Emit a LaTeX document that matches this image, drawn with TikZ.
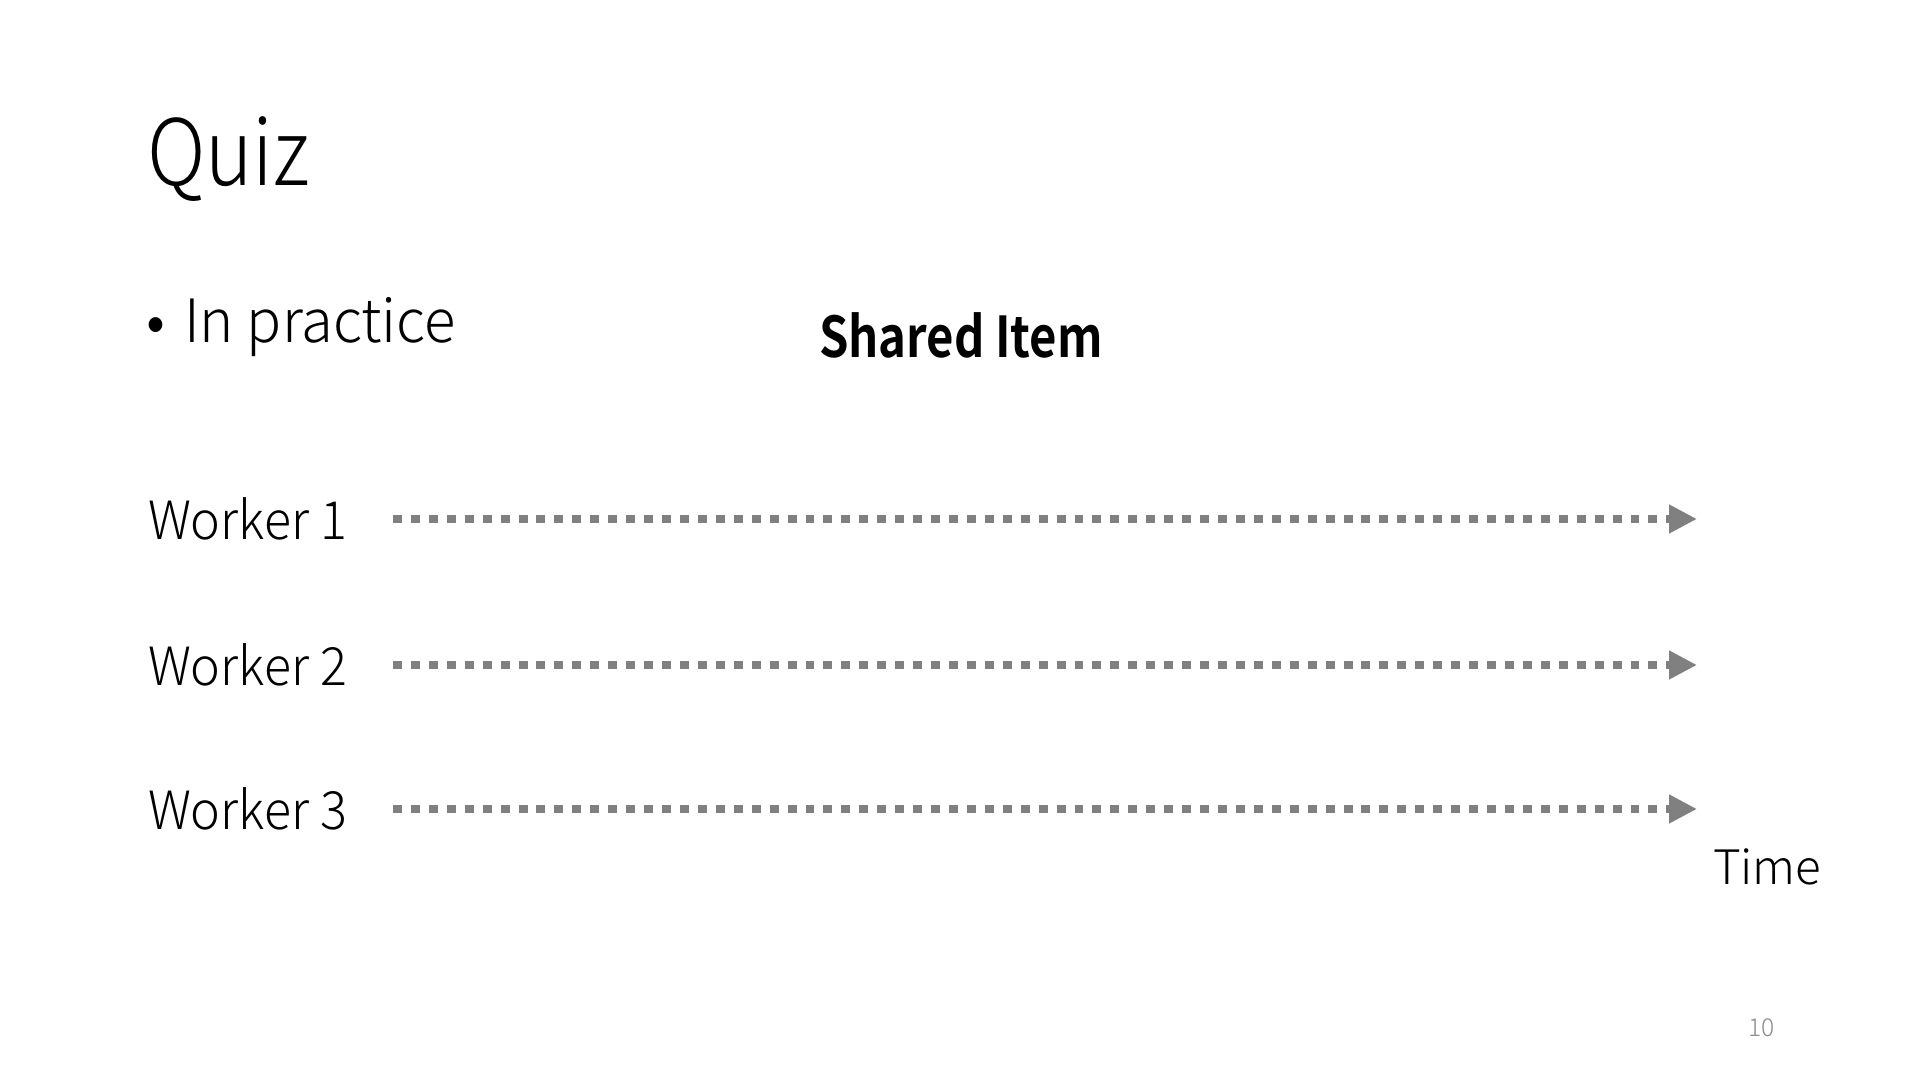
\documentclass[tikz,border=0pt]{standalone}
\usepackage{fontspec}
\setmainfont{Noto Sans CJK JP}[UprightFont=* Light, BoldFont=* Bold]
\newfontfamily\titlefont{Noto Sans CJK JP}[UprightFont=* Light, FakeStretch=0.88]
\newfontfamily\bulletfont{Noto Sans CJK JP}[UprightFont=* Light, FakeStretch=0.97]
\newfontfamily\bodyfont{Noto Sans CJK JP}[UprightFont=* Light, FakeStretch=0.95]
\newfontfamily\boldfont{Noto Sans CJK JP}[UprightFont=* Bold, FakeStretch=0.84]
\usetikzlibrary{arrows.meta}
\definecolor{arrowgray}{RGB}{128,128,128}
\definecolor{numgray}{RGB}{140,140,140}
\tikzset{
  lbl/.style={anchor=base west, inner sep=0pt, outer sep=0pt},
  timeline/.style={draw=arrowgray, line width=2.55pt, dash pattern=on 2.55pt off 2.55pt,
    -{Triangle[length=7.9pt, width=7.65pt]}}
}
\begin{document}
\begin{tikzpicture}[x=0.01cm, y=-0.01cm]
\useasboundingbox (0,0) rectangle (1920,1080);
\fill[white] (0,0) rectangle (1920,1080);
\node[lbl, font=\titlefont\fontsize{26}{30}\selectfont] (title) at (147,186) {Quiz};
\node[lbl, font=\bulletfont\fontsize{17}{20}\selectfont] (bullet) at (184,343) {In practice};
\node[anchor=base east, inner sep=0pt, font=\fontsize{17}{20}\selectfont] (dot) at (166,343) {•};
\node[lbl, font=\boldfont\fontsize{16}{20}\selectfont] (shared) at (819,358) {Shared Item};
\node[lbl, font=\bodyfont\fontsize{15}{18}\selectfont] (w1) at (148,540) {Worker 1};
\node[lbl, font=\bodyfont\fontsize{15}{18}\selectfont] (w2) at (148,686) {Worker 2};
\node[lbl, font=\bodyfont\fontsize{15}{18}\selectfont] (w3) at (148,830) {Worker 3};
\coordinate (s1) at (393,519);
\coordinate (e1) at (1697,519);
\coordinate (s2) at (393,665);
\coordinate (e2) at (1697,665);
\coordinate (s3) at (393,809);
\coordinate (e3) at (1697,809);
\draw[timeline] (s1) -- (e1);
\draw[timeline] (s2) -- (e2);
\draw[timeline] (s3) -- (e3);
\node[lbl, font=\fontsize{13.5}{16}\selectfont] (time) at (1713,885) {Time};
\node[lbl, font=\fontsize{7}{8}\selectfont, text=numgray] (page) at (1748,1037) {10};
\end{tikzpicture}
\end{document}
